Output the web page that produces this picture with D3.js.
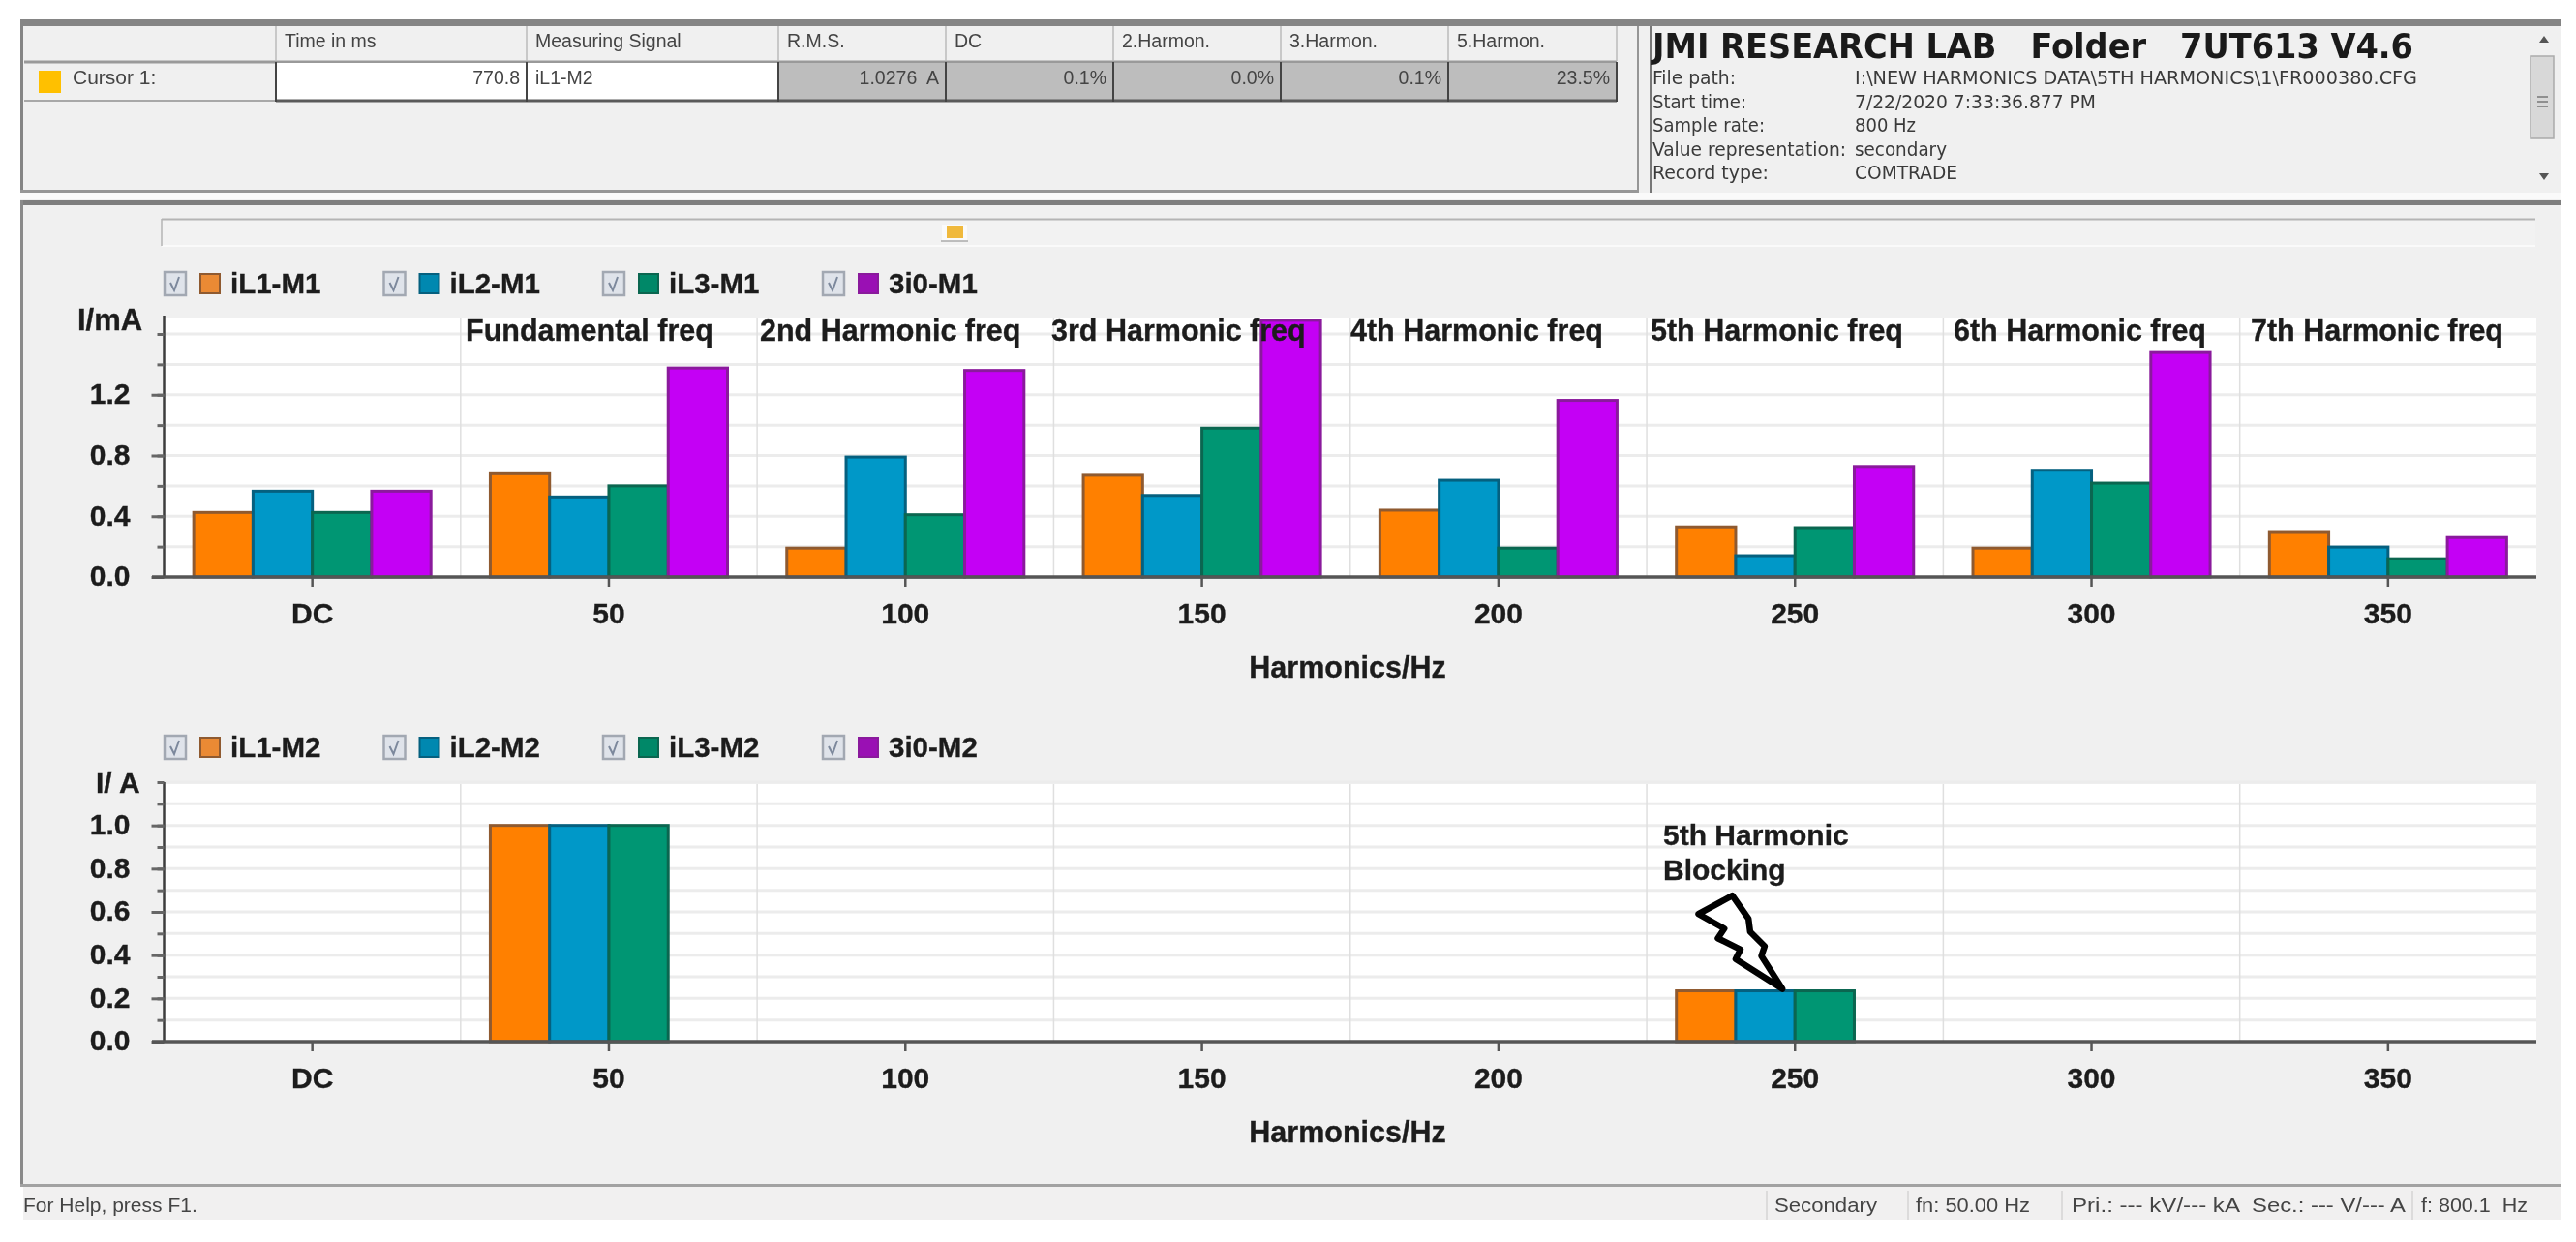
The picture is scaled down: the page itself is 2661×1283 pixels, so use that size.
<!DOCTYPE html>
<html>
<head>
<meta charset="utf-8">
<script src="https://cdn.jsdelivr.net/npm/d3@7/dist/d3.min.js"></script>
<style>
html,body{margin:0;padding:0;background:#fff;overflow:hidden}
svg{display:block;filter:blur(0.7px)}
text{font-family:"Liberation Sans",Arial,sans-serif}
.b{font-weight:700;fill:#1c1c1c;stroke:#1c1c1c;stroke-width:0.35px}
.ui{fill:#444;font-size:19.5px}
.tah{font-family:"DejaVu Sans Condensed","DejaVu Sans",sans-serif;fill:#3a3a3a;font-size:20px}
</style>
</head>
<body>
<svg id="c" width="2661" height="1283" viewBox="0 0 2661 1283"></svg>
<script>
// ---- chart data ----
const categories = ["DC","50","100","150","200","250","300","350"];
const bandTitles = ["Fundamental freq","2nd Harmonic freq","3rd Harmonic freq","4th Harmonic freq","5th Harmonic freq","6th Harmonic freq","7th Harmonic freq"];
const seriesM1 = ["iL1-M1","iL2-M1","iL3-M1","3i0-M1"];
const seriesM2 = ["iL1-M2","iL2-M2","iL3-M2","3i0-M2"];
const iL1M1 = [0.425,0.68,0.19,0.67,0.44,0.33,0.19,0.293];
const iL2M1 = [0.565,0.527,0.79,0.537,0.637,0.14,0.703,0.197];
const iL3M1 = [0.425,0.60,0.41,0.98,0.19,0.325,0.618,0.12];
const i30M1 = [0.565,1.376,1.36,1.69,1.163,0.728,1.478,0.26];
const iL1M2 = [0,1.0,0,0,0,0.235,0,0];
const iL2M2 = [0,1.0,0,0,0,0.235,0,0];
const iL3M2 = [0,1.0,0,0,0,0.235,0,0];
const i30M2 = [0,0,0,0,0,0,0,0];
const fills = ["#ff8000","#0098c8","#009673","#c400f5"];
const strokes = ["#8f5a30","#05607f","#0b6650","#8a1a9c"];
const swatchFills = ["#ea8a34","#0088b0","#008868","#9a10b4"];
const topTickLabels = [0,0.4,0.8,1.2];
const botTickLabels = [0,0.2,0.4,0.6,0.8,1.0];

// header table
const tableHeads = ["","Time in ms","Measuring Signal","R.M.S.","DC","2.Harmon.","3.Harmon.","5.Harmon."];
const tableCells = ["","770.8","iL1-M2","1.0276  A","0.1%","0.0%","0.1%","23.5%"];
const colEdges = [25,285,544,804,977,1150,1323,1496,1670];
const infoLabels = ["File path:","Start time:","Sample rate:","Value representation:","Record type:"];
const infoLabelWidths = [86,97,116,200,120];
const infoValues = ["I:\\NEW HARMONICS DATA\\5TH HARMONICS\\1\\FR000380.CFG","7/22/2020 7:33:36.877 PM","800 Hz","secondary","COMTRADE"];
const infoValueWidths = [581,249,63,95,106];

const svg = d3.select("#c");
const rect=(g,x,y,w,h,f,s,sw)=>g.append("rect").attr("x",x).attr("y",y).attr("width",w).attr("height",h).attr("fill",f).attr("stroke",s||"none").attr("stroke-width",sw||0);
const text=(g,x,y,t,cls,anchor,size)=>{const e=g.append("text").attr("x",x).attr("y",y).attr("class",cls).attr("text-anchor",anchor||"start").text(t);if(size)e.style("font-size",size+"px");return e;};

// ---- window chrome ----
const chrome = svg.append("g");
rect(chrome,0,0,2661,1283,"#fff");
rect(chrome,21,20,2624,180,"#f0f0f0");
rect(chrome,21,20,2624,7,"#858585");
rect(chrome,21,20,3,178,"#858585");
rect(chrome,21,196,1672,3,"#969696");
rect(chrome,1691,27,2,171,"#969696");
rect(chrome,1704,27,2,172,"#777");
rect(chrome,21,199,2624,7,"#fafafa");
rect(chrome,21,206,2624,1019,"#f0f0f0");
rect(chrome,21,207,2624,5,"#7e7e7e");
rect(chrome,21,207,3,1018,"#8a8a8a");
rect(chrome,21,1223,2624,3,"#a2a2a2");
rect(chrome,24,1226,2621,34,"#f1f0f0");

// ---- cursor table ----
const tbl = svg.append("g");
tbl.append("line").attr("x1",25).attr("x2",1670).attr("y1",64).attr("y2",64).attr("stroke","#9a9a9a").attr("stroke-width",3);
rect(tbl,colEdges[1],65,colEdges[3]-colEdges[1],38,"#fff");
rect(tbl,colEdges[3],65,colEdges[8]-colEdges[3],38,"#bdbdbd");
tbl.append("line").attr("x1",25).attr("x2",285).attr("y1",104).attr("y2",104).attr("stroke","#a8a8a8").attr("stroke-width",2);
tbl.append("line").attr("x1",285).attr("x2",1670).attr("y1",104).attr("y2",104).attr("stroke","#5a5a5a").attr("stroke-width",3);
colEdges.slice(1).forEach(x=>{
  tbl.append("line").attr("x1",x).attr("x2",x).attr("y1",27).attr("y2",63).attr("stroke","#bbb").attr("stroke-width",1.5);
  tbl.append("line").attr("x1",x).attr("x2",x).attr("y1",64).attr("y2",105).attr("stroke","#444").attr("stroke-width",2);
});
tableHeads.forEach((t,i)=>{ if(t) text(tbl,colEdges[i]+9,49,t,"ui"); });
rect(tbl,40,73,23,23,"#ffc000");
text(tbl,75,87,"Cursor 1:","ui","start",21);
[[1,"end"],[2,"start"],[3,"end"],[4,"end"],[5,"end"],[6,"end"],[7,"end"]].forEach(([i,a])=>{
  text(tbl,a==="end"?colEdges[i+1]-7:colEdges[i]+9,87,tableCells[i],"ui",a).attr("xml:space","preserve").style("white-space","pre");
});

// ---- info panel ----
const info = svg.append("g");
text(info,1707,60,"JMI RESEARCH LAB   Folder   7UT613 V4.6","","start",35)
  .style("font-family",'"DejaVu Sans Condensed","DejaVu Sans",sans-serif').style("font-weight",700).style("white-space","pre")
  .attr("fill","#1a1a1a").attr("textLength",786).attr("lengthAdjust","spacingAndGlyphs");
const infoY = d3.scalePoint().domain(infoLabels).range([87,185]);
infoLabels.forEach((l,i)=>{ text(info,1707,infoY(l),l,"tah").attr("textLength",infoLabelWidths[i]).attr("lengthAdjust","spacingAndGlyphs"); });
infoValues.forEach((v,i)=>{ text(info,1916,infoY(infoLabels[i]),v,"tah").attr("textLength",infoValueWidths[i]).attr("lengthAdjust","spacingAndGlyphs"); });
// scrollbar
rect(info,2614,58,24,85,"#d8d8d8","#aaa",1.5);
[100,105,110].forEach(y=>info.append("line").attr("x1",2621).attr("x2",2632).attr("y1",y).attr("y2",y).attr("stroke","#777").attr("stroke-width",1.5));
info.append("path").attr("d","M2628 37l5 7h-10z").attr("fill","#555");
info.append("path").attr("d","M2628 186l5 -7h-10z").attr("fill","#555");

// ---- slider ----
const slider = svg.append("g");
rect(slider,167,227,2452,27,"#f2f2f2");
slider.append("line").attr("x1",167).attr("x2",2619).attr("y1",226.5).attr("y2",226.5).attr("stroke","#b4b4b4").attr("stroke-width",2);
slider.append("line").attr("x1",167).attr("x2",2619).attr("y1",254).attr("y2",254).attr("stroke","#fafafa").attr("stroke-width",2);
slider.append("line").attr("x1",167).attr("x2",167).attr("y1",226).attr("y2",254).attr("stroke","#b4b4b4").attr("stroke-width",1.5);
rect(slider,973,232,26,17,"#fafafa");
rect(slider,978,233,17,13,"#f0b93c");
slider.append("line").attr("x1",972).attr("x2",1000).attr("y1",249).attr("y2",249).attr("stroke","#aaa").attr("stroke-width",1.5);

// ---- charts ----
const x = d3.scaleBand().domain(categories).range([169.5,2620]).paddingInner(0).paddingOuter(0);
const xInner = d3.scaleBand().domain(d3.range(4)).paddingInner(0).paddingOuter(0);
function chart(opts){
  const {y,top,bottom,series,names,major,minor,legendY,fmt} = opts;
  const g = svg.append("g");
  const bw = x.bandwidth(), inset = bw*0.1;
  xInner.range([inset,bw-inset]);
  rect(g,169.5,top,2450.5,bottom-top,"#fff");
  // grid
  g.selectAll(".gy").data(minor).join("line").attr("x1",169.5).attr("x2",2620)
    .attr("y1",d=>y(d)).attr("y2",d=>y(d)).attr("stroke","#ececec").attr("stroke-width",3);
  // vertical separators
  g.selectAll(".gx").data(categories.slice(1)).join("line").attr("x1",d=>x(d)).attr("x2",d=>x(d))
    .attr("y1",top).attr("y2",bottom).attr("stroke","#dfdfdf").attr("stroke-width",1.5);
  // bars
  const clipId = "clip"+top;
  g.append("clipPath").attr("id",clipId).append("rect").attr("x",169).attr("y",top+2).attr("width",2452).attr("height",bottom-top);
  series.forEach((vals,si)=>{
    g.append("g").attr("clip-path",`url(#${clipId})`).selectAll("rect").data(vals.map((v,i)=>({v,c:categories[i]})).filter(d=>d.v>0)).join("rect")
      .attr("x",d=>x(d.c)+xInner(si)).attr("width",xInner.bandwidth())
      .attr("y",d=>y(d.v)).attr("height",d=>y(0)-y(d.v))
      .attr("fill",fills[si]).attr("stroke",strokes[si]).attr("stroke-width",3);
  });
  // y axis minor + major
  const yA = g.append("g").attr("transform","translate(169.5,0)").call(d3.axisLeft(y).tickValues(minor).tickSize(7).tickFormat(""));
  yA.selectAll("path").attr("stroke","#3d3d3d").attr("stroke-width",2.5).attr("d",`M0 ${top-2}V${bottom}`);
  yA.selectAll("line").attr("stroke","#666").attr("stroke-width",3);
  const yB = g.append("g").attr("transform","translate(169.5,0)").call(d3.axisLeft(y).tickValues(major).tickSize(13).tickPadding(22).tickFormat(fmt));
  yB.select("path").remove();
  yB.selectAll("line").attr("stroke","#666").attr("stroke-width",3);
  yB.selectAll("text").attr("class","b").attr("dy",null).attr("dominant-baseline","middle").style("font-size","30px").style("font-family",'"Liberation Sans",Arial,sans-serif').attr("y",1);
  // x axis
  const xA = g.append("g").attr("transform",`translate(0,${bottom})`).call(d3.axisBottom(x).tickSize(10).tickPadding(19));
  xA.select("path").attr("stroke","#555").attr("stroke-width",3.5).attr("d",`M157 0H2620`);
  xA.selectAll("line").attr("stroke","#555").attr("stroke-width",2.5);
  xA.selectAll("text").attr("class","b").style("font-size","30px").style("font-family",'"Liberation Sans",Arial,sans-serif').attr("dy","0.71em").attr("y",27);
  text(g,1392,opts.titleY,"Harmonics/Hz","b","middle",30.5);
  // legend
  const legendX = d3.scaleOrdinal().domain(d3.range(4)).range([169,395.5,622,849]);
  names.forEach((n,i)=>{
    const lx = legendX(i);
    rect(g,lx+1,legendY-12,22,24,"#dfe3ea","#a2a8b2",2.5);
    g.append("path").attr("d",`M${lx+7} ${legendY-1}l4 8l5 -14`).attr("fill","none").attr("stroke","#7c889c").attr("stroke-width",2);
    rect(g,lx+38,legendY-10,20,20,swatchFills[i],strokes[i],2);
    text(g,lx+69,legendY+10,n,"b","start",29.5);
  });
  return g;
}

const yTop = d3.scaleLinear().domain([0,1.6]).range([596,345]);
const gTop = chart({y:yTop,top:328,bottom:596,series:[iL1M1,iL2M1,iL3M1,i30M1],names:seriesM1,
  major:topTickLabels,minor:[0.2,0.4,0.6,0.8,1.0,1.2,1.4,1.6],legendY:293,titleY:700,fmt:d3.format(".1f")});
text(gTop,80,341,"I/mA","b","start",31);
const titleX = [481,785,1086,1395,1705,2018,2325];
bandTitles.forEach((t,i)=>text(gTop,titleX[i],352,t,"b","start",30.5));

const yBot = d3.scaleLinear().domain([0,1.2]).range([1076,808]);
const gBot = chart({y:yBot,top:810,bottom:1076,series:[iL1M2,iL2M2,iL3M2,i30M2],names:seriesM2,
  major:botTickLabels,minor:[0.1,0.2,0.3,0.4,0.5,0.6,0.7,0.8,0.9,1.0,1.1,1.2],legendY:772,titleY:1180,fmt:d3.format(".1f")});
text(gBot,99,819,"I/ A","b","start",30);

// annotation: lightning bolt anchored to the 250 Hz group
text(gBot,1718,873,"5th Harmonic","b","start",30);
text(gBot,1718,909,"Blocking","b","start",30);
const boltOffsets = [[0,0],[-21.7,-34],[-18.3,-44],[-33.3,-59],[-35,-72.3],[-51.7,-96.3],[-86.7,-77.3],[-60,-62.3],[-66.7,-52.3],[-43.3,-40.7],[-48.3,-30.7]];
const tipX = x("250")+x.bandwidth()/2-13, tipY = yBot(iL2M2[5])-2;
gBot.append("path").attr("d",d3.line()(boltOffsets.map(p=>[tipX+p[0],tipY+p[1]]))+"Z")
  .attr("fill","#fff").attr("stroke","#000").attr("stroke-width",6.5).attr("stroke-linejoin","round");

// ---- status bar ----
const st = svg.append("g");
text(st,24,1252,"For Help, press F1.","ui","start",21);
const statusTexts = ["Secondary","fn: 50.00 Hz","Pri.: --- kV/--- kA","Sec.: --- V/--- A","f: 800.1  Hz"];
const statusX = [1833,1979,2140,2326,2501];
const statusW = [106,118,174,159,110];
statusTexts.forEach((t,i)=>text(st,statusX[i],1252,t,"ui","start",20.5).style("white-space","pre").attr("textLength",statusW[i]).attr("lengthAdjust","spacingAndGlyphs"));
[1825,1971,2130,2492].forEach(xx=>st.append("line").attr("x1",xx).attr("x2",xx).attr("y1",1230).attr("y2",1260).attr("stroke","#d4d4d4").attr("stroke-width",1.5));
</script>
</body>
</html>
